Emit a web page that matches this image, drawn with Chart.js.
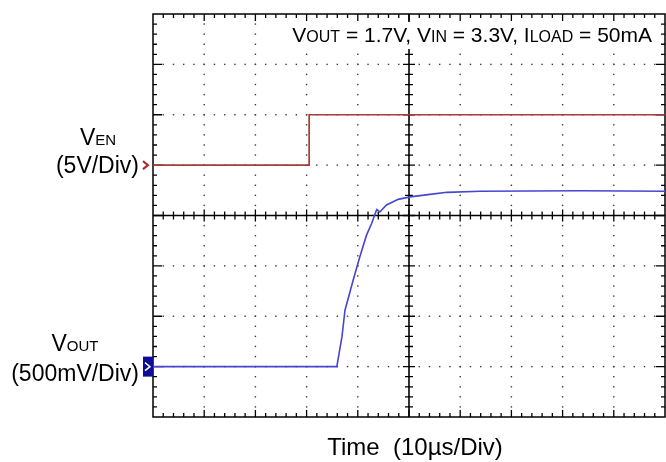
<!DOCTYPE html>
<html>
<head>
<meta charset="utf-8">
<script src="https://cdn.jsdelivr.net/npm/chart.js@4.4.1/dist/chart.umd.min.js"></script>
<style>
    body { margin: 0; background: #ffffff; }
    #scopeChart { display: block; }
</style>
</head>
<body>
<canvas id="scopeChart" width="666" height="462"></canvas>
<script>
// time in µs (10µs per division), level in screen divisions (0 = bottom)
const enTime = [0, 30.5, 30.5, 100];
const enLevel = [5, 5, 6, 6];

const outTime = [0, 35.9, 36.9, 37.5, 39.1, 40.4, 41.7, 42.7, 43.4, 43.7, 44.3, 45.6, 47.9, 50.2, 54.1, 57.4, 63.9, 83.4, 100];
const outLevel = [1.0, 1.0, 1.59, 2.12, 2.72, 3.18, 3.61, 3.84, 4.04, 4.12, 4.07, 4.21, 4.32, 4.37, 4.42, 4.46, 4.48, 4.49, 4.48];

const timeDivisions = 10;
const levelDivisions = 8;

const FONT = '"Liberation Sans", Arial, sans-serif';

// parts: [text, isSub]; main / sub font sizes in px
function drawSubText(ctx, parts, x, y, align, main, sub) {
    let total = 0;
    parts.forEach(p => {
        ctx.font = (p[1] ? sub : main) + 'px ' + FONT;
        total += ctx.measureText(p[0]).width;
    });
    let cx = align === 'right' ? x - total : (align === 'center' ? x - total / 2 : x);
    ctx.textAlign = 'left';
    ctx.textBaseline = 'alphabetic';
    parts.forEach(p => {
        ctx.font = (p[1] ? sub : main) + 'px ' + FONT;
        ctx.fillText(p[0], cx, y);
        cx += ctx.measureText(p[0]).width;
    });
}

const scopePlugin = {
    id: 'scope',
    beforeDatasetsDraw(chart) {
        const { ctx, chartArea: a, scales: { x, y } } = chart;
        ctx.save();

        // dotted graticule
        ctx.fillStyle = '#3a3a3a';
        for (let d = 1; d < timeDivisions; d++) {
            if (d === timeDivisions / 2) continue;
            const px = x.getPixelForValue(d * 10);
            for (let i = 1; i < levelDivisions * 5; i++) {
                const py = y.getPixelForValue(i * 0.2);
                ctx.fillRect(px - 0.7, py - 0.7, 1.4, 1.4);
            }
        }
        for (let d = 1; d < levelDivisions; d++) {
            if (d === levelDivisions / 2) continue;
            const py = y.getPixelForValue(d);
            for (let i = 1; i < timeDivisions * 5; i++) {
                const px = x.getPixelForValue(i * 2);
                ctx.fillRect(px - 0.7, py - 0.7, 1.4, 1.4);
            }
        }

        ctx.strokeStyle = '#000000';

        // centre axes
        const cx = x.getPixelForValue(50);
        const cy = y.getPixelForValue(4);
        ctx.beginPath();
        ctx.moveTo(cx, a.top); ctx.lineTo(cx, a.bottom);
        ctx.moveTo(a.left, cy); ctx.lineTo(a.right, cy);
        ctx.lineWidth = 1.6;
        ctx.stroke();

        ctx.beginPath();
        ctx.lineWidth = 1.3;
        for (let i = 1; i < timeDivisions * 5; i++) {
            const px = x.getPixelForValue(i * 2);
            const len = i % 5 === 0 ? 6 : 4;
            ctx.moveTo(px, cy - len); ctx.lineTo(px, cy + len);
            ctx.moveTo(px, a.top); ctx.lineTo(px, a.top + (i % 5 === 0 ? 7 : 4));
            ctx.moveTo(px, a.bottom); ctx.lineTo(px, a.bottom - (i % 5 === 0 ? 7 : 4));
        }
        for (let i = 1; i < levelDivisions * 5; i++) {
            const py = y.getPixelForValue(i * 0.2);
            const len = i % 5 === 0 ? 6 : 4;
            ctx.moveTo(cx - len, py); ctx.lineTo(cx + len, py);
            ctx.moveTo(a.left, py); ctx.lineTo(a.left + (i % 5 === 0 ? 9 : 4), py);
            ctx.moveTo(a.right, py); ctx.lineTo(a.right - (i % 5 === 0 ? 9 : 4), py);
        }
        ctx.stroke();

        // frame
        ctx.lineWidth = 1.5;
        ctx.strokeRect(a.left, a.top, a.right - a.left, a.bottom - a.top);

        // test conditions on white
        ctx.fillStyle = '#ffffff';
        ctx.fillRect(286, 22, 372, 27);
        ctx.fillStyle = '#000000';
        drawSubText(ctx, [['V', false], ['OUT', true], [' = 1.7V, V', false], ['IN', true],
            [' = 3.3V, I', false], ['LOAD', true], [' = 50mA', false]], 652, 42, 'right', 21, 16);

        ctx.restore();
    },
    afterDraw(chart) {
        const { ctx, chartArea: a, scales: { x, y } } = chart;
        ctx.save();
        ctx.fillStyle = '#000000';

        // channel labels
        drawSubText(ctx, [['V', false], ['EN', true]], 98, 145, 'center', 23, 15);
        ctx.font = '23px ' + FONT;
        ctx.textAlign = 'right';
        ctx.fillText('(5V/Div)', 139, 173);
        drawSubText(ctx, [['V', false], ['OUT', true]], 75, 351, 'center', 23, 15);
        ctx.font = '23px ' + FONT;
        ctx.textAlign = 'right';
        ctx.fillText('(500mV/Div)', 139, 381);

        // axis caption
        ctx.font = '24px ' + FONT;
        ctx.textAlign = 'center';
        ctx.fillText('Time  (10\u00b5s/Div)', 415, 455);

        // channel markers
        const ry = y.getPixelForValue(enLevel[0]);
        ctx.strokeStyle = '#a82a2a';
        ctx.lineWidth = 2;
        ctx.beginPath();
        ctx.moveTo(143, ry - 4); ctx.lineTo(148, ry); ctx.lineTo(143, ry + 4);
        ctx.stroke();

        const by = y.getPixelForValue(outLevel[0]);
        ctx.fillStyle = '#0c0c96';
        ctx.fillRect(143, by - 10, a.left - 143, 20);
        ctx.strokeStyle = '#ffffff';
        ctx.lineWidth = 1.5;
        ctx.beginPath();
        ctx.moveTo(145, by - 4); ctx.lineTo(150, by); ctx.lineTo(145, by + 4);
        ctx.stroke();
        ctx.restore();
    }
};

const ctx = document.getElementById('scopeChart').getContext('2d');
new Chart(ctx, {
    type: 'line',
    data: {
        datasets: [{
            label: 'VEN',
            data: enTime.map((t, i) => ({ x: t, y: enLevel[i] })),
            borderColor: '#a83c3c',
            borderWidth: 1.7,
            pointRadius: 0,
            tension: 0
        }, {
            label: 'VOUT',
            data: outTime.map((t, i) => ({ x: t, y: outLevel[i] })),
            borderColor: '#4646d2',
            borderWidth: 1.6,
            pointRadius: 0,
            tension: 0
        }]
    },
    options: {
        responsive: false,
        animation: false,
        layout: { padding: { left: 153, right: 1, top: 14, bottom: 45 } },
        scales: {
            x: { type: 'linear', min: 0, max: 100, display: false },
            y: { type: 'linear', min: 0, max: 8, display: false }
        },
        plugins: {
            legend: { display: false },
            tooltip: { enabled: false }
        }
    },
    plugins: [scopePlugin]
});
</script>
</body>
</html>
